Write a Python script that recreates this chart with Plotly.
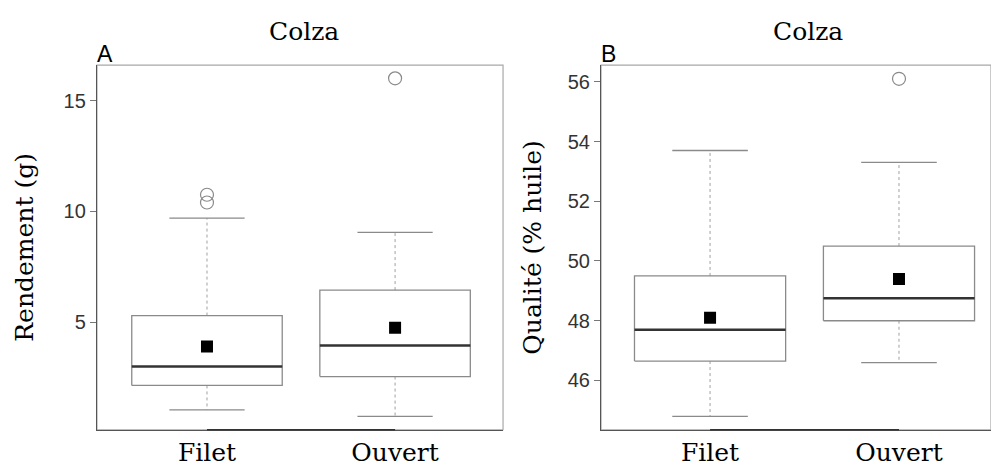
import plotly.graph_objects as go
from plotly.subplots import make_subplots

# groups on the x axis
groups = ["Filet", "Ouvert"]

# panel A: Rendement (g)
rend_q1 = [2.15, 2.55]
rend_median = [3.0, 3.95]
rend_q3 = [5.3, 6.45]
rend_low = [1.05, 0.75]
rend_high = [9.7, 9.05]
rend_mean = [3.9, 4.75]
rend_out_group = ["Filet", "Filet", "Ouvert"]
rend_out_value = [10.75, 10.4, 16.0]
rend_ticks = [5, 10, 15]

# panel B: Qualité (% huile)
qual_q1 = [46.65, 48.0]
qual_median = [47.7, 48.75]
qual_q3 = [49.5, 50.5]
qual_low = [44.8, 46.6]
qual_high = [53.7, 53.3]
qual_mean = [48.1, 49.4]
qual_out_group = ["Ouvert"]
qual_out_value = [56.1]
qual_ticks = [46, 48, 50, 52, 54, 56]

SERIF = "DejaVu Serif"
SANS = "Liberation Sans, Arial"
BOX_W = 0.4
CAP_W = 0.2


def add_boxes(fig, col, q1, med, q3, low, high, mean, out_g, out_v):
    bx, by, wx, wy, cx, cy, mx, my = [], [], [], [], [], [], [], []
    for i in range(len(groups)):
        bx += [i - BOX_W, i + BOX_W, i + BOX_W, i - BOX_W, i - BOX_W, None]
        by += [q1[i], q1[i], q3[i], q3[i], q1[i], None]
        wx += [i, i, None, i, i, None]
        wy += [q3[i], high[i], None, q1[i], low[i], None]
        cx += [i - CAP_W, i + CAP_W, None, i - CAP_W, i + CAP_W, None]
        cy += [high[i], high[i], None, low[i], low[i], None]
        mx += [i - BOX_W, i + BOX_W, None]
        my += [med[i], med[i], None]
    # dotted whiskers, caps, box, median, mean and outliers
    fig.add_trace(go.Scatter(x=wx, y=wy, mode="lines",
                             line=dict(color="#a0a0a0", width=1, dash="3px,3px")),
                  row=1, col=col)
    fig.add_trace(go.Scatter(x=cx, y=cy, mode="lines",
                             line=dict(color="#8a8a8a", width=1.3)), row=1, col=col)
    fig.add_trace(go.Scatter(x=bx, y=by, mode="lines",
                             line=dict(color="#8a8a8a", width=1.3)), row=1, col=col)
    fig.add_trace(go.Scatter(x=mx, y=my, mode="lines",
                             line=dict(color="#333333", width=2.5)), row=1, col=col)
    fig.add_trace(go.Scatter(x=list(range(len(groups))), y=mean, mode="markers",
                             marker=dict(symbol="square", size=12, color="black")),
                  row=1, col=col)
    fig.add_trace(go.Scatter(x=[groups.index(g) for g in out_g], y=out_v, mode="markers",
                             marker=dict(symbol="circle-open", size=13,
                                         color="#8a8a8a", line=dict(width=1.2))),
                  row=1, col=col)


fig = make_subplots(rows=1, cols=2)
add_boxes(fig, 1, rend_q1, rend_median, rend_q3, rend_low, rend_high, rend_mean,
          rend_out_group, rend_out_value)
add_boxes(fig, 2, qual_q1, qual_median, qual_q3, qual_low, qual_high, qual_mean,
          qual_out_group, qual_out_value)

fig.update_xaxes(
    tickvals=[0, 1], ticktext=groups, ticks="", showgrid=False, zeroline=False,
    showline=True, linecolor="#555555", linewidth=1.2,
    tickfont=dict(family=SERIF, size=25, color="black"),
)
fig.update_xaxes(domain=[0.0905, 0.5036], range=[-0.585, 1.574], row=1, col=1)
fig.update_xaxes(domain=[0.6033, 1.0], range=[-0.577, 1.487], row=1, col=2)

fig.update_yaxes(
    domain=[0.0501, 0.8715], showgrid=False, zeroline=False,
    showline=True, linecolor="#555555", linewidth=1.2,
    ticks="outside", ticklen=6, tickcolor="#777777",
    tickfont=dict(family=SANS, size=20, color="#333333"),
    title_font=dict(family=SERIF, size=25, color="black"),
)
fig.update_yaxes(range=[0.15, 16.6], tickvals=rend_ticks,
                 title_text="Rendement (g)", title_standoff=22, row=1, col=1)
fig.update_yaxes(range=[44.35, 56.56], tickvals=qual_ticks,
                 title_text="Qualité (% huile)", title_standoff=18, row=1, col=2)

for xr, yr, letter in [("x", "y", "A"), ("x2", "y2", "B")]:
    # light frame around the plot area
    fig.add_shape(type="rect", xref=xr + " domain", yref=yr + " domain",
                  x0=0, x1=1, y0=0, y1=1, line=dict(color="#a8a8a8", width=1.2),
                  layer="below")
    # darker axis segment between the first and last group
    fig.add_shape(type="line", xref=xr, yref=yr + " domain", x0=0, x1=1, y0=0, y1=0,
                  line=dict(color="#333333", width=1.5))
    fig.add_annotation(text="Colza", xref=xr, yref="paper", x=0.5, y=0.9477,
                       xanchor="center", yanchor="middle", showarrow=False, xshift=3,
                       font=dict(family=SERIF, size=25, color="black"))
    fig.add_annotation(text=letter, xref=xr + " domain", yref=yr + " domain", x=0, y=1,
                       xanchor="left", yanchor="bottom", showarrow=False, yshift=-4,
                       xshift=-2, font=dict(family=SANS, size=23, color="black"))

# the page adds an 8 px body margin, so the figure is sized to fit the window
fig.update_layout(
    width=983, height=459, showlegend=False,
    margin=dict(l=0, r=0, t=0, b=0),
    plot_bgcolor="white", paper_bgcolor="white",
)

fig.write_html("out.html")
